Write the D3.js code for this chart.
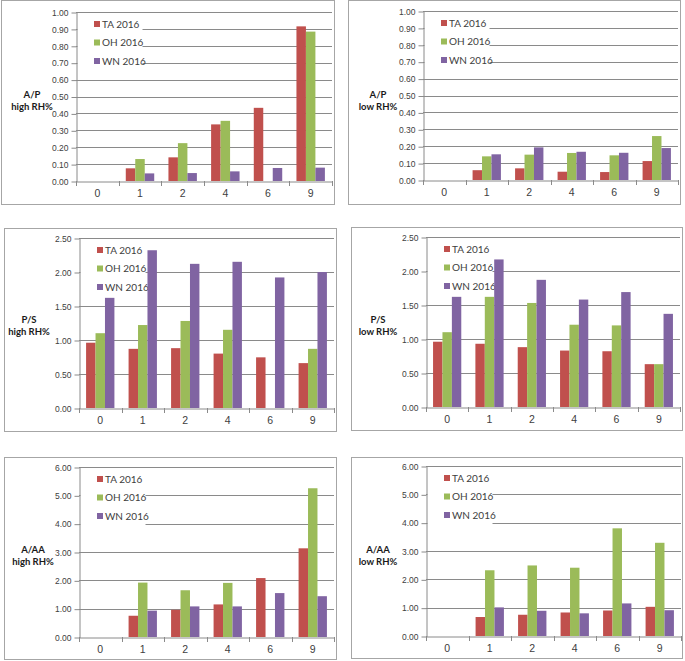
<!DOCTYPE html>
<html><head><meta charset="utf-8">
<script src="https://cdn.jsdelivr.net/npm/d3@7"></script>
<style>
body{margin:0;background:#fff;}
svg{display:block;font-family:Lato,"Liberation Sans",sans-serif;}
</style></head>
<body>
<svg id="chart" width="685" height="661"></svg>
<script>
// ---- data ----
const categories = ["0","1","2","4","6","9"];
const seriesNames = ["TA 2016","OH 2016","WN 2016"];
const seriesColors = ["#C0504D","#9BBB59","#8064A2"];

const apHighTA = [null,0.075,0.14,0.335,0.433,0.915];
const apHighOH = [null,0.13,0.224,0.356,null,0.884];
const apHighWN = [null,0.045,0.047,0.057,0.077,0.079];

const apLowTA = [null,0.058,0.069,0.049,0.047,0.112];
const apLowOH = [null,0.14,0.15,0.16,0.146,0.26];
const apLowWN = [null,0.152,0.193,0.167,0.161,0.189];

const psHighTA = [0.96,0.87,0.88,0.80,0.745,0.66];
const psHighOH = [1.10,1.22,1.28,1.15,null,0.87];
const psHighWN = [1.62,2.32,2.12,2.15,1.92,2.00];

const psLowTA = [0.96,0.93,0.88,0.83,0.82,0.63];
const psLowOH = [1.10,1.62,1.53,1.21,1.20,0.63];
const psLowWN = [1.62,2.17,1.87,1.58,1.69,1.37];

const aaHighTA = [null,0.75,0.96,1.15,2.08,3.13];
const aaHighOH = [null,1.92,1.65,1.91,null,5.25];
const aaHighWN = [null,0.93,1.08,1.08,1.55,1.44];

const aaLowTA = [null,0.67,0.75,0.83,0.90,1.03];
const aaLowOH = [null,2.32,2.49,2.41,3.80,3.29];
const aaLowWN = [null,1.01,0.89,0.80,1.15,0.91];

const ticksAP = [0,0.1,0.2,0.3,0.4,0.5,0.6,0.7,0.8,0.9,1.0];
const ticksPS = [0,0.5,1.0,1.5,2.0,2.5];
const ticksAA = [0,1,2,3,4,5,6];

const yLabels = [["A/P","high RH%"],["A/P","low RH%"],["P/S","high RH%"],["P/S","low RH%"],["A/AA","high RH%"],["A/AA","low RH%"]];

// ---- layout ----
const panels = [
  {series:[apHighTA,apHighOH,apHighWN], ticks:ticksAP, label:yLabels[0],
   frame:[1,0,333,204], x0:76, x1:332, top:12, bottom:181, labX:32, labY:94},
  {series:[apLowTA,apLowOH,apLowWN], ticks:ticksAP, label:yLabels[1],
   frame:[348,0,332,204], x0:423, x1:678, top:11, bottom:180, labX:378, labY:94},
  {series:[psHighTA,psHighOH,psHighWN], ticks:ticksPS, label:yLabels[2],
   frame:[4,228,332,203], x0:79, x1:334, top:238, bottom:408, labX:29, labY:319},
  {series:[psLowTA,psLowOH,psLowWN], ticks:ticksPS, label:yLabels[3],
   frame:[351,227,331,203], x0:426, x1:680, top:237, bottom:407, labX:378, labY:319},
  {series:[aaHighTA,aaHighOH,aaHighWN], ticks:ticksAA, label:yLabels[4],
   frame:[4,457,332,202], x0:79, x1:334, top:467, bottom:637, labX:33, labY:549},
  {series:[aaLowTA,aaLowOH,aaLowWN], ticks:ticksAA, label:yLabels[5],
   frame:[351,457,331,201], x0:426, x1:681, top:466, bottom:636, labX:378, labY:549}
];

const svg = d3.select("#chart");
const gridColor = "#8a8a8a";
const textColor = "#404040";

panels.forEach(p => {
  const g = svg.append("g");
  g.append("rect").attr("x",p.frame[0]+0.5).attr("y",p.frame[1]+0.5)
    .attr("width",p.frame[2]).attr("height",p.frame[3])
    .attr("fill","#fff").attr("stroke","#a6a6a6").attr("stroke-width",1);

  const x = d3.scaleBand().domain(categories).range([p.x0,p.x1]).paddingInner(0).paddingOuter(0);
  const xs = d3.scaleBand().domain(seriesNames).range([0,x.bandwidth()]).paddingInner(0).paddingOuter(0.75);
  const y = d3.scaleLinear().domain([p.ticks[0],p.ticks[p.ticks.length-1]]).range([p.bottom,p.top]);

  // gridlines
  g.append("g").selectAll("line").data(p.ticks.slice(1)).join("line")
    .attr("x1",p.x0).attr("x2",p.x1)
    .attr("y1",d=>Math.round(y(d))+0.5).attr("y2",d=>Math.round(y(d))+0.5)
    .attr("stroke",gridColor).attr("stroke-width",1);

  // legend background (covers gridlines)
  const lg = g.append("g");
  lg.append("rect").attr("x",p.x0+1.5).attr("y",p.top+3).attr("width",65).attr("height",57).attr("fill","#fff");

  // y axis
  const ya = g.append("g").attr("transform",`translate(${p.x0+0.5},0.5)`)
    .call(d3.axisLeft(y).tickValues(p.ticks).tickFormat(d3.format(".2f")).tickSize(5).tickSizeOuter(0));
  ya.select(".domain").attr("stroke",gridColor);
  ya.selectAll(".tick line").attr("stroke",gridColor);
  ya.selectAll(".tick text").attr("fill",textColor).attr("font-size","8.5px").attr("x",-8);

  // bars
  p.series.forEach((vals,si) => {
    g.append("g").selectAll("rect").data(categories.map((c,i)=>({c,v:vals[i]})).filter(d=>d.v!=null && d.v>0))
      .join("rect")
      .attr("x",d=>x(d.c)+xs(seriesNames[si]))
      .attr("width",xs.bandwidth())
      .attr("y",d=>y(d.v))
      .attr("height",d=>y(0)-y(d.v))
      .attr("fill",seriesColors[si]);
  });

  // x axis
  const xa = g.append("g").attr("transform",`translate(0,${Math.round(y(0))+0.5})`)
    .call(d3.axisBottom(x).tickSize(0).tickPadding(8));
  xa.select(".domain").attr("stroke",gridColor);
  xa.selectAll(".tick text").attr("fill",textColor).attr("font-size","10.5px");
  const bounds = categories.map(c=>x(c)).concat([p.x1]);
  g.append("g").selectAll("line").data(bounds).join("line")
    .attr("x1",d=>Math.round(d)+0.5).attr("x2",d=>Math.round(d)+0.5)
    .attr("y1",Math.round(y(0))).attr("y2",Math.round(y(0))+5)
    .attr("stroke",gridColor);

  // legend entries
  seriesNames.forEach((s,si)=>{
    const ly = p.top+12+si*18.5;
    lg.append("rect").attr("x",p.x0+18).attr("y",ly-3).attr("width",6).attr("height",6).attr("fill",seriesColors[si]);
    lg.append("text").attr("x",p.x0+26).attr("y",ly+3.5).text(s)
      .attr("font-size","10px").attr("fill",textColor);
  });

  // y label
  p.label.forEach((t,li)=>{
    g.append("text").attr("x",p.labX).attr("y",p.labY+li*12+4).attr("text-anchor","middle")
      .attr("font-size","9.5px").attr("font-weight","bold").attr("fill","#1a1a1a").text(t);
  });
});
</script>
</body></html>
